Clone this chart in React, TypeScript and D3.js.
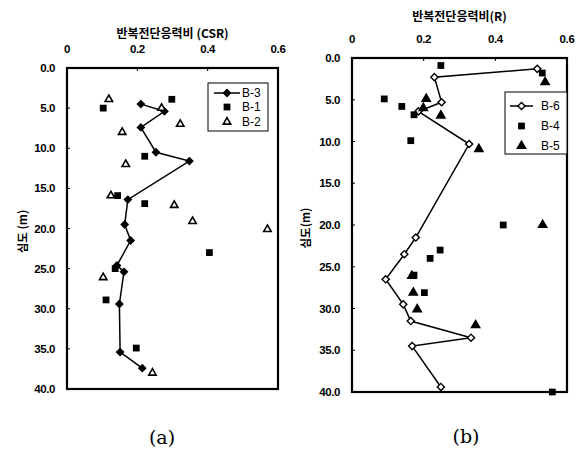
import React from "react";
import * as d3 from "d3";

const xTicks = [0, 0.2, 0.4, 0.6];
const yTicks = [0, 5, 10, 15, 20, 25, 30, 35, 40];

// Panel (a)
const b3Depth = [4.5, 5.4, 7.4, 10.5, 11.6, 16.4, 19.5, 21.5, 24.6, 25.4, 29.4, 35.4, 37.4];
const b3Csr = [0.21, 0.277, 0.21, 0.253, 0.348, 0.173, 0.164, 0.181, 0.142, 0.162, 0.149, 0.151, 0.214];
const b1Depth = [3.9, 5.0, 11.0, 15.9, 16.9, 23.0, 25.0, 28.9, 34.9];
const b1Csr = [0.298, 0.103, 0.221, 0.144, 0.221, 0.405, 0.137, 0.111, 0.197];
const b2Depth = [3.9, 5.0, 7.0, 8.0, 12.0, 15.9, 17.1, 19.1, 20.1, 26.1, 38.0];
const b2Csr = [0.119, 0.269, 0.322, 0.157, 0.167, 0.125, 0.305, 0.357, 0.57, 0.103, 0.243];

// Panel (b)
const b6Depth = [1.3, 2.3, 5.3, 6.4, 10.3, 21.5, 23.5, 26.5, 29.5, 31.5, 33.5, 34.5, 39.4];
const b6R = [0.517, 0.23, 0.25, 0.185, 0.327, 0.178, 0.146, 0.094, 0.143, 0.164, 0.332, 0.168, 0.248];
const b4Depth = [0.9, 1.8, 4.9, 5.8, 6.8, 9.9, 20.0, 23.0, 24.0, 26.0, 28.1, 40.0];
const b4R = [0.248, 0.531, 0.09, 0.139, 0.173, 0.164, 0.422, 0.246, 0.218, 0.173, 0.202, 0.559];
const b5Depth = [2.9, 4.9, 6.0, 6.9, 10.9, 20.0, 26.1, 28.1, 30.1, 32.0];
const b5R = [0.539, 0.207, 0.199, 0.248, 0.354, 0.532, 0.167, 0.171, 0.182, 0.345];

type MarkerKind = "diamondFilled" | "diamondOpen" | "square" | "triangleOpen" | "triangleFilled";

type Series = {
  name: string;
  xs: number[];
  ys: number[];
  line: boolean;
  marker: MarkerKind;
};

const FONT = "'Liberation Sans', Arial, sans-serif";
const KFONT = "'Noto Sans CJK KR', 'Liberation Sans', sans-serif";

function Marker({ kind, x, y }: { kind: MarkerKind; x: number; y: number }) {
  if (kind === "diamondFilled" || kind === "diamondOpen") {
    const p = d3.symbol(d3.symbolSquare, kind === "diamondFilled" ? 24 : 26)();
    return (
      <path
        d={p || ""}
        transform={`translate(${x},${y}) rotate(45)`}
        fill={kind === "diamondFilled" ? "#000" : "#fff"}
        stroke="#000"
        strokeWidth={1.4}
      />
    );
  }
  if (kind === "square") {
    const p = d3.symbol(d3.symbolSquare, 46)();
    return <path d={p || ""} transform={`translate(${x},${y})`} fill="#000" />;
  }
  const p = d3.symbol(d3.symbolTriangle, kind === "triangleFilled" ? 28 : 24)();
  return (
    <path
      d={p || ""}
      transform={`translate(${x},${y})`}
      fill={kind === "triangleFilled" ? "#000" : "#fff"}
      stroke="#000"
      strokeWidth={1.6}
    />
  );
}

type PanelProps = {
  left: number;
  top: number;
  right: number;
  bottom: number;
  title: string;
  titleY: number;
  tickLabelY: number;
  yLabel: string;
  yLabelX: number;
  legend: { x: number; y: number; w: number; h: number; lineX0: number; lineX1: number; textX: number; rows: number[] };
  series: Series[];
  caption: string;
  captionX: number;
  captionY: number;
};

function Panel(p: PanelProps) {
  const x = d3.scaleLinear().domain([0, 0.6]).range([p.left, p.right]);
  const y = d3.scaleLinear().domain([0, 40]).range([p.top, p.bottom]);
  const lineGen = d3
    .line<[number, number]>()
    .x((d) => x(d[0]))
    .y((d) => y(d[1]));
  return (
    <g>
      <text
        x={(p.left + p.right) / 2}
        y={p.titleY}
        textAnchor="middle"
        dominantBaseline="central"
        fontFamily={KFONT}
        fontSize={12}
        fontWeight={700}
      >
        {p.title}
      </text>
      {xTicks.map((t) => (
        <g key={"xt" + t}>
          <text
            x={x(t)}
            y={p.tickLabelY}
            textAnchor="middle"
            dominantBaseline="central"
            fontFamily={FONT}
            fontSize={11.5}
            fontWeight={700}
            letterSpacing={-0.4}
          >
            {t === 0 ? "0" : t.toFixed(1)}
          </text>
          <line x1={x(t)} x2={x(t)} y1={p.top} y2={p.top + 3} stroke="#000" strokeWidth={1} />
        </g>
      ))}
      {yTicks.map((t) => (
        <g key={"yt" + t}>
          <text
            x={p.left - 12}
            y={y(t)}
            textAnchor="end"
            dominantBaseline="central"
            fontFamily={FONT}
            fontSize={11.5}
            fontWeight={700}
            letterSpacing={-0.4}
          >
            {t.toFixed(1)}
          </text>
          <line x1={p.left} x2={p.left + 3} y1={y(t)} y2={y(t)} stroke="#000" strokeWidth={1} />
        </g>
      ))}
      <text
        transform={`translate(${p.yLabelX},${(p.top + p.bottom) / 2 + 3}) rotate(-90)`}
        textAnchor="middle"
        dominantBaseline="central"
        fontFamily={KFONT}
        fontSize={11.5}
        fontWeight={700}
      >
        {p.yLabel}
      </text>
      <rect
        x={p.left}
        y={p.top}
        width={p.right - p.left}
        height={p.bottom - p.top}
        fill="none"
        stroke="#000"
        strokeWidth={2.2}
      />
      {p.series.map((s) =>
        s.line ? (
          <path
            key={"l" + s.name}
            d={lineGen(s.xs.map((v, i) => [v, s.ys[i]] as [number, number])) || ""}
            fill="none"
            stroke="#000"
            strokeWidth={1.5}
          />
        ) : null
      )}
      {p.series.map((s) =>
        s.xs.map((v, i) => <Marker key={s.name + i} kind={s.marker} x={x(v)} y={y(s.ys[i])} />)
      )}
      <rect
        x={p.legend.x}
        y={p.legend.y}
        width={p.legend.w}
        height={p.legend.h}
        fill="#fff"
        stroke="#000"
        strokeWidth={1}
      />
      {p.series.map((s, i) => {
        const ry = p.legend.rows[i];
        const mx = (p.legend.lineX0 + p.legend.lineX1) / 2;
        return (
          <g key={"lg" + s.name}>
            {s.line ? (
              <line x1={p.legend.lineX0} x2={p.legend.lineX1} y1={ry} y2={ry} stroke="#000" strokeWidth={1.5} />
            ) : null}
            <Marker kind={s.marker} x={mx} y={ry} />
            <text
              x={p.legend.textX}
              y={ry}
              dominantBaseline="central"
              fontFamily={FONT}
              fontSize={12}
              fontWeight={500}
            >
              {s.name}
            </text>
          </g>
        );
      })}
      <text
        x={p.captionX}
        y={p.captionY}
        textAnchor="middle"
        dominantBaseline="central"
        fontFamily="'DejaVu Serif', 'Liberation Serif', serif"
        fontSize={19}
      >
        {p.caption}
      </text>
    </g>
  );
}

export default function App() {
  const seriesA: Series[] = [
    { name: "B-3", xs: b3Csr, ys: b3Depth, line: true, marker: "diamondFilled" },
    { name: "B-1", xs: b1Csr, ys: b1Depth, line: false, marker: "square" },
    { name: "B-2", xs: b2Csr, ys: b2Depth, line: false, marker: "triangleOpen" },
  ];
  const seriesB: Series[] = [
    { name: "B-6", xs: b6R, ys: b6Depth, line: true, marker: "diamondOpen" },
    { name: "B-4", xs: b4R, ys: b4Depth, line: false, marker: "square" },
    { name: "B-5", xs: b5R, ys: b5Depth, line: false, marker: "triangleFilled" },
  ];
  return (
    <svg
      width={581}
      height={452}
      style={{ position: "absolute", left: 0, top: 0, background: "#fff" }}
    >
      <rect x={0} y={0} width={581} height={452} fill="#fff" />
      <Panel
        left={67}
        top={68}
        right={278}
        bottom={389}
        title="반복전단응력비 (CSR)"
        titleY={32}
        tickLabelY={49}
        yLabel="심도 (m)"
        yLabelX={22}
        legend={{ x: 208, y: 83, w: 60, h: 48, lineX0: 214, lineX1: 240, textX: 242, rows: [93, 107, 122] }}
        series={seriesA}
        caption="(a)"
        captionX={162}
        captionY={437}
      />
      <Panel
        left={352}
        top={58}
        right={567}
        bottom={392}
        title="반복전단응력비(R)"
        titleY={15}
        tickLabelY={39}
        yLabel="심도(m)"
        yLabelX={305}
        legend={{ x: 505, y: 92, w: 62, h: 62, lineX0: 510, lineX1: 533, textX: 541, rows: [106, 126, 146] }}
        series={seriesB}
        caption="(b)"
        captionX={466}
        captionY={436}
      />
    </svg>
  );
}
